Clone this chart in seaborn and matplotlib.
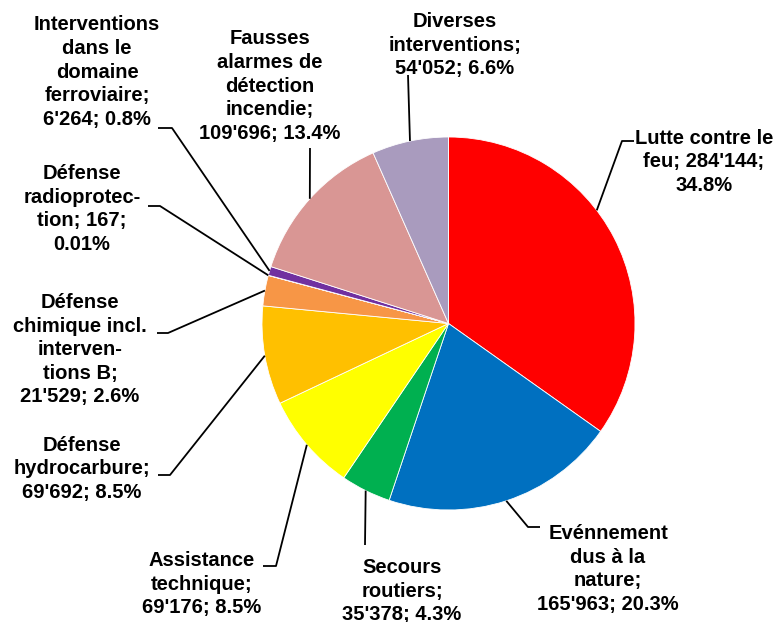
import numpy as np
import seaborn as sns
from matplotlib import pyplot as plt

# slices, clockwise from 12 o'clock
categories = ["Lutte contre le\nfeu", "Evénnement\ndus à la\nnature",
              "Secours\nroutiers", "Assistance\ntechnique",
              "Défense\nhydrocarbure", "Défense\nchimique incl.\ninterven-\ntions B",
              "Défense\nradioprotec-\ntion", "Interventions\ndans le\ndomaine\nferroviaire",
              "Fausses\nalarmes de\ndétection\nincendie", "Diverses\ninterventions"]
values = [284144, 165963, 35378, 69176, 69692, 21529, 167, 6264, 109696, 54052]
percents = ["34.8%", "20.3%", "4.3%", "8.5%", "8.5%", "2.6%", "0.01%", "0.8%",
            "13.4%", "6.6%"]
colors = ["#FF0000", "#0070C0", "#00B050", "#FFFF00", "#FFC000", "#F79646",
          "#4F81BD", "#7030A0", "#D99694", "#A99BBE"]

# how the value/percent part wraps after the name in each label
joins = [("; ", ";\n"), (";\n", "; "), (";\n", "; "), (";\n", "; "), (";\n", "; "),
         (";\n", "; "), ("; ", ";\n"), (";\n", "; "), (";\n", "; "), (";\n", "; ")]

# label layout in pixels: text centre, leader path near the text
label_pos = [(704, 162), (608, 569), (402, 591), (202, 584), (82, 469),
             (80, 350), (82, 209), (97, 72), (270, 86), (455, 45)]
leader_pts = [[(622, 141), (634, 141)], [(528, 527), (540, 527)], [(365, 545)],
              [(276, 566), (263, 566)], [(170, 475), (158, 475)],
              [(168, 333), (157, 333)], [(160, 206), (148, 206)],
              [(172, 128), (158, 128)], [(310, 148)], [(408, 75)]]
# where along each wedge (clockwise, 0..1) the leader line starts
anchor_frac = [0.42, 0.5, 0.5, 0.5, 0.5, 0.5, 0.5, 0.5, 0.5, 0.5]

W, H = 779, 622
CX, CY, R = 448.5, 323.5, 186.5


def px(x, y):
    return (x - CX) / R, (CY - y) / R


def fmt(v):
    return f"{v:,}".replace(",", "'")


sns.set_theme(style="white")
plt.rcParams['font.family'] = ['Liberation Sans', 'DejaVu Sans']

fig = plt.figure(figsize=(W / 100, H / 100), dpi=100)
ax = fig.add_axes([0, 0, 1, 1])
wedges, _ = ax.pie(values, colors=colors, startangle=90, counterclock=False,
                   radius=1, center=(0, 0),
                   wedgeprops=dict(linewidth=0.6, edgecolor="white"))

for i, w in enumerate(wedges):
    j1, j2 = joins[i]
    text = categories[i] + j1 + fmt(values[i]) + j2 + percents[i]
    tx, ty = px(*label_pos[i])
    ax.text(tx, ty, text, ha="center", va="center", fontsize=14.5,
            fontweight="bold", linespacing=1.3, color="black")
    ang = np.deg2rad(w.theta2 - anchor_frac[i] * (w.theta2 - w.theta1))
    pts = [(np.cos(ang), np.sin(ang))] + [px(*p) for p in leader_pts[i]]
    xs, ys = zip(*pts)
    ax.plot(xs, ys, color="black", lw=1.3, solid_capstyle="butt")

ax.set_xlim(-CX / R, (W - CX) / R)
ax.set_ylim(-(H - CY) / R, CY / R)
ax.set_aspect("equal")
ax.axis("off")
plt.savefig("out.png", dpi=100)
plt.close()
